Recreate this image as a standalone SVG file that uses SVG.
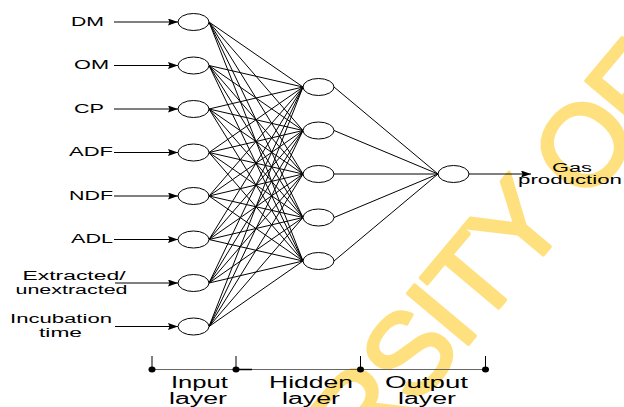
<svg xmlns="http://www.w3.org/2000/svg" width="624" height="407" viewBox="0 0 624 407">
<style>
text{font-family:"Liberation Sans",Arial,sans-serif;fill:#000}
.lbl{font-size:13px}
.sm{font-size:12px}
.ax{font-size:16px}
.nd{fill:#fff;stroke:#000;stroke-width:1}
.w{stroke:#000;stroke-width:1;fill:none}
.ar{stroke:#000;stroke-width:1;fill:none;marker-end:url(#ah)}
.wm{font-size:115px;letter-spacing:-4px;fill:#FFE07E;stroke:#FFE07E;stroke-width:3.5;stroke-linejoin:round}
</style>
<defs>
<marker id="ah" viewBox="0 0 10 7" refX="10" refY="3.5" markerWidth="10" markerHeight="7" markerUnits="userSpaceOnUse" orient="auto">
<path d="M0,0L10,3.5L0,7L1.5,3.5z" fill="#000"/>
</marker>
</defs>
<rect width="624" height="407" fill="#fff"/>
<text class="wm" transform="translate(364,468.4) rotate(-50)">RSITY OF</text>

<g id="connectors">
<path class="w" d="M209 22L303 87M209 22L303 130.5M209 22L303 174M209 22L303 217.5M209 22L303 261
M209 65.5L303 87M209 65.5L303 130.5M209 65.5L303 174M209 65.5L303 217.5M209 65.5L303 261
M209 109L303 87M209 109L303 130.5M209 109L303 174M209 109L303 217.5M209 109L303 261
M209 152.5L303 87M209 152.5L303 130.5M209 152.5L303 174M209 152.5L303 217.5M209 152.5L303 261
M209 196L303 87M209 196L303 130.5M209 196L303 174M209 196L303 217.5M209 196L303 261
M209 239.5L303 87M209 239.5L303 130.5M209 239.5L303 174M209 239.5L303 217.5M209 239.5L303 261
M209 283L303 87M209 283L303 130.5M209 283L303 174M209 283L303 217.5M209 283L303 261
M209 326.5L303 87M209 326.5L303 130.5M209 326.5L303 174M209 326.5L303 217.5M209 326.5L303 261
M334 87L438 174M334 130.5L438 174M334 174L438 174M334 217.5L438 174M334 261L438 174"/>
<path class="ar" d="M114 22H178"/>
<path class="ar" d="M114 65.5H178"/>
<path class="ar" d="M114 109H178"/>
<path class="ar" d="M114 152.5H178"/>
<path class="ar" d="M114 196H178"/>
<path class="ar" d="M114 239.5H178"/>
<path class="ar" d="M115 283H178"/>
<path class="ar" d="M115 326.5H178"/>
<path class="ar" d="M469 174H531"/>
</g>

<g id="in-dm"><ellipse class="nd" cx="193.5" cy="22" rx="15.5" ry="8.5"/><text class="lbl" x="71" y="25.5" textLength="33" lengthAdjust="spacingAndGlyphs">DM</text></g>
<g id="in-om"><ellipse class="nd" cx="193.5" cy="65.5" rx="15.5" ry="8.5"/><text class="lbl" x="74" y="69" textLength="35" lengthAdjust="spacingAndGlyphs">OM</text></g>
<g id="in-cp"><ellipse class="nd" cx="193.5" cy="109" rx="15.5" ry="8.5"/><text class="lbl" x="74" y="112.5" textLength="30" lengthAdjust="spacingAndGlyphs">CP</text></g>
<g id="in-adf"><ellipse class="nd" cx="193.5" cy="152.5" rx="15.5" ry="8.5"/><text class="lbl" x="69" y="156" textLength="44" lengthAdjust="spacingAndGlyphs">ADF</text></g>
<g id="in-ndf"><ellipse class="nd" cx="193.5" cy="196" rx="15.5" ry="8.5"/><text class="lbl" x="69" y="199.5" textLength="44" lengthAdjust="spacingAndGlyphs">NDF</text></g>
<g id="in-adl"><ellipse class="nd" cx="193.5" cy="239.5" rx="15.5" ry="8.5"/><text class="lbl" x="71" y="243" textLength="42" lengthAdjust="spacingAndGlyphs">ADL</text></g>
<g id="in-ext"><ellipse class="nd" cx="193.5" cy="283" rx="15.5" ry="8.5"/><text class="sm" x="22.5" y="279.5" textLength="103" lengthAdjust="spacingAndGlyphs">Extracted/</text><text class="sm" x="15.5" y="293.5" textLength="112" lengthAdjust="spacingAndGlyphs">unextracted</text></g>
<g id="in-inc"><ellipse class="nd" cx="193.5" cy="326.5" rx="15.5" ry="8.5"/><text class="sm" x="10" y="323" textLength="102" lengthAdjust="spacingAndGlyphs">Incubation</text><text class="sm" x="39" y="337" textLength="43" lengthAdjust="spacingAndGlyphs">time</text></g>

<g id="h1"><ellipse class="nd" cx="318.5" cy="87" rx="15.5" ry="8.5"/></g>
<g id="h2"><ellipse class="nd" cx="318.5" cy="130.5" rx="15.5" ry="8.5"/></g>
<g id="h3"><ellipse class="nd" cx="318.5" cy="174" rx="15.5" ry="8.5"/></g>
<g id="h4"><ellipse class="nd" cx="318.5" cy="217.5" rx="15.5" ry="8.5"/></g>
<g id="h5"><ellipse class="nd" cx="318.5" cy="261" rx="15.5" ry="8.5"/></g>

<g id="out"><ellipse class="nd" cx="453.5" cy="174" rx="15.5" ry="8.5"/></g>
<g id="gas"><text class="sm" x="552" y="171.5" textLength="40" lengthAdjust="spacingAndGlyphs">Gas</text><text class="sm" x="518" y="184" textLength="104" lengthAdjust="spacingAndGlyphs">production</text></g>

<g id="scale">
<line x1="152" y1="369.5" x2="486" y2="369.5" stroke="#666" stroke-width="1"/>
<line x1="236" y1="369.5" x2="252" y2="369.5" stroke="#000" stroke-width="1.5"/>
<path class="w" d="M152 356V369.5M236 356V369.5M360.5 356V369.5M485.5 356V369.5"/>
<ellipse cx="152" cy="369.5" rx="3.5" ry="3" fill="#000"/>
<ellipse cx="236" cy="369.5" rx="3.5" ry="3" fill="#000"/>
<ellipse cx="360.5" cy="369.5" rx="3.5" ry="3" fill="#000"/>
<ellipse cx="485.5" cy="369.5" rx="3.5" ry="3" fill="#000"/>
<text class="ax" x="171" y="388" textLength="57" lengthAdjust="spacingAndGlyphs">Input</text>
<text class="ax" x="169" y="403.5" textLength="58" lengthAdjust="spacingAndGlyphs">layer</text>
<text class="ax" x="269" y="388" textLength="84" lengthAdjust="spacingAndGlyphs">Hidden</text>
<text class="ax" x="282" y="403.5" textLength="58" lengthAdjust="spacingAndGlyphs">layer</text>
<text class="ax" x="385" y="388" textLength="83" lengthAdjust="spacingAndGlyphs">Output</text>
<text class="ax" x="398" y="403.5" textLength="58" lengthAdjust="spacingAndGlyphs">layer</text>
</g>
</svg>
